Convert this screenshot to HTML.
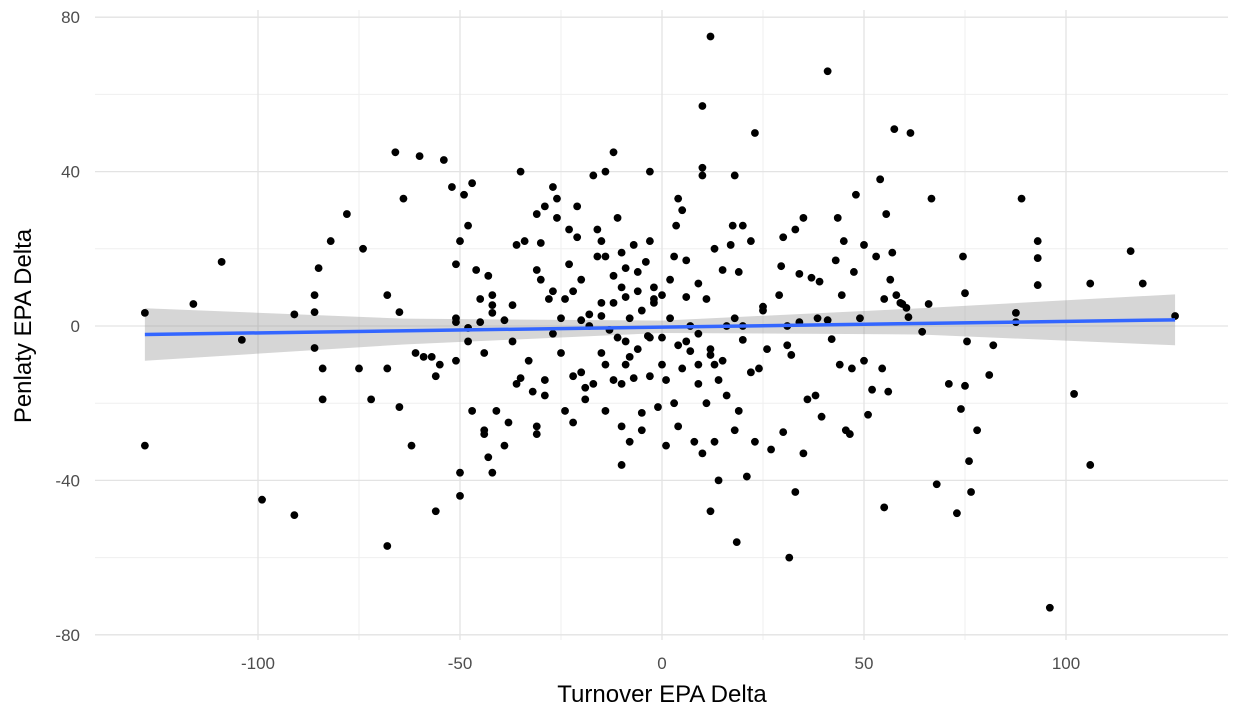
<!DOCTYPE html>
<html><head><meta charset="utf-8"><style>
body{margin:0;background:#fff;}
svg text{font-family:"Liberation Sans",sans-serif;}
</style></head><body>
<svg id="chart" width="1234" height="718" xmlns="http://www.w3.org/2000/svg">
<g id="grid"></g>
<g id="band"></g>
<g id="pts"></g>
<g id="fit"></g>
<g id="axes"></g>
<text x="662" y="702" text-anchor="middle" font-size="24" fill="#000">Turnover EPA Delta</text>
<text transform="translate(31,326) rotate(-90)" text-anchor="middle" font-size="24" fill="#000">Penlaty EPA Delta</text>
</svg>
<script>
const xTicks=[-100,-50,0,50,100];
const yTicks=[80,40,0,-40,-80];
const xMinor=[-75,-25,25,75];
const yMinor=[60,20,-20,-60];
const fitX=[-128,127];
const fitY=[-2.2,1.6];
const bandX=[-128,-64,0,64,127];
const bandLo=[-9,-4.8,-1.8,-2.2,-5];
const bandHi=[4.6,1.9,1.4,4.6,8.2];
const px=[-128,-128,-116,-109,-104,-99,-91,-91,-86,-86,-86,-85,-84,-84,-82,-78,-75,-74,-72,-68,-68,-68,-66,-65,-65,-64,-62,-61,-60,-59,-57,-56,-56,-55,-54,-52,-51,-51,-51,-51,-50,-50,-50,-49,-48,-48,-48,-47,-47,-46,-45,-45,-44,-44,-44,-43,-42,-42,-42,-43,-42,-41,-39,-39,-38,-37,-37,-36,-36,-35,-35,-34,-33,-32,-31,-31,-31,-31,-30,-30,-29,-29,-29,-28,-27,-27,-27,-26,-26,-25,-25,-24,-24,-23,-23,-22,-22,-21,-21,-20,-20,-20,-19,-19,-18,-17,-17,-16,-16,-15,-15,-15,-14,-14,-14,-14,-13,-12,-12,-12,-11,-11,-10,-10,-10,-10,-9,-9,-9,-9,-8,-8,-7,-7,-6,-6,-5,-5,-4,-3.5,-3,-3,-3,-2,-2,-1,0,0,0,1,1,2,3,3.5,4,4,4,5,6,6,7,7,8,9,9,9,10,10,10,10,11,11,12,12,12,13,13,13,14,14,15,16,16,17,17.5,18,18,18.5,19,19,20,20,20,21,22,23,23,24,25,26,27,29,29.5,30,30,31,31,31.5,32,33,33,34,34,35,35,36,37,38,38.5,39,39.5,41,41,42,43,43.5,44,44.5,45,45.5,46.5,47,47.5,48,49,50,50,51,52,53,54,54.5,55,55,55.5,56,56.5,57,57.5,58,59,59.5,60.5,61,61.5,64.4,66,66.7,68,71,73,74,74.5,75,75,75.5,76,76.5,78,81,82,87.6,87.6,89,93,93,93,96,102,106,106,116,119,127,-5,-8,2,6,-12,15,-18,22,-2,9,-6,12,3,-15,18,-10,25,-22,5,-3];
const py=[3.4,-31,5.7,16.6,-3.6,-45,3,-49,8,3.6,-5.7,15,-11,-19,22,29,-11,20,-19,-11,-57,8,45,3.6,-21,33,-31,-7,44,-8,-8,-13,-48,-10,43,36,2,1,16,-9,-38,-44,22,34,26,-4,-0.5,-22,37,14.5,1,7,-7,-27,-28,13,5.4,8,3.4,-34,-38,-22,1.5,-31,-25,5.4,-4,-15,21,40,-13.5,22,-9,-17,-26,14.5,29,-28,21.5,12,31,-14,-18,7,9,-2,36,33,28,2,-7,-22,7,25,16,-13,-25,31,23,-12,12,1.5,-19,-16,0,-15,39,18,25,22,6,2.6,-10,-22,40,18,-1,-14,45,13,-3,28,-36,19,-26,10,-10,-4,7.5,15,-30,2,21,-13.5,9,-6,-22.5,-27,16.6,-2.6,-13,40,22,7,6,-21,-3,-10,8,-14,-31,2,-20,26,-26,33,-5,30,17,7.5,-6.5,0,-30,-15,-10,11,39,57,-33,41,7,-20,-7.5,75,-48,-10,-30,20,-14,-40,14.5,0,-18,21,26,-27,39,-56,-22,14,26,-3.6,0,-39,22,50,-30,-11,4,-6,-32,8,15.5,-27.5,23,0,-5,-60,-7.5,25,-43,13.5,1,28,-33,-19,12.5,-18,2,11.5,-23.5,1.5,66,-3.4,17,28,-10,8,22,-27,-28,-11,14,34,2,21,-9,-23,-16.5,18,38,-11,-47,7,29,-17,12,19,51,8,6,5.7,4.7,2.3,50,-1.5,5.7,33,-41,-15,-48.5,-21.5,18,8.5,-15.5,-4,-35,-43,-27,-12.7,-5,1,3.4,33,22,17.6,10.6,-73,-17.6,11,-36,19.4,11,2.6,4,-8,12,-4,6,-9,3,-12,10,-2,14,-6,18,-7,2,-15,5,9,-11,-3];
const X=v=>662+v*4.04, Y=v=>326-v*3.86;
const NS="http://www.w3.org/2000/svg";
function mk(g,tag,attrs){const e=document.createElementNS(NS,tag);for(const k in attrs)e.setAttribute(k,attrs[k]);document.getElementById(g).appendChild(e);return e;}
const L=95,R=1228,T=10,B=640;
xMinor.forEach(v=>{const e=mk('grid','line',{x1:X(v),x2:X(v),y1:T,y2:B,stroke:'#efefef','stroke-width':1});

});
yMinor.forEach(v=>{const e=mk('grid','line',{x1:L,x2:R,y1:Y(v),y2:Y(v),stroke:'#efefef','stroke-width':1});

});
xTicks.forEach(v=>{const e=mk('grid','line',{x1:X(v),x2:X(v),y1:T,y2:B,stroke:'#e3e3e3','stroke-width':1.3});


const t=mk('axes','text',{x:X(v),y:669,'text-anchor':'middle','font-size':17,fill:'#4d4d4d'});t.textContent=v;

});
yTicks.forEach(v=>{const e=mk('grid','line',{x1:L,x2:R,y1:Y(v),y2:Y(v),stroke:'#e3e3e3','stroke-width':1.3});


const t=mk('axes','text',{x:80,y:Y(v)+6,'text-anchor':'end','font-size':17,fill:'#4d4d4d'});t.textContent=v;

});
let d='M'+bandX.map((v,i)=>X(v)+','+Y(bandHi[i])).join(' L')+' L'+bandX.slice().reverse().map((v,i)=>X(v)+','+Y(bandLo[bandX.length-1-i])).join(' L')+'Z';
const b=mk('band','path',{d:d,fill:'#999','fill-opacity':0.4});


px.forEach((v,i)=>{const c=mk('pts','circle',{cx:X(v),cy:Y(py[i]),r:3.9,fill:'#000'});

});
const f=mk('fit','line',{x1:X(fitX[0]),y1:Y(fitY[0]),x2:X(fitX[1]),y2:Y(fitY[1]),stroke:'#3366ff','stroke-width':3.5});


</script>
</body></html>
